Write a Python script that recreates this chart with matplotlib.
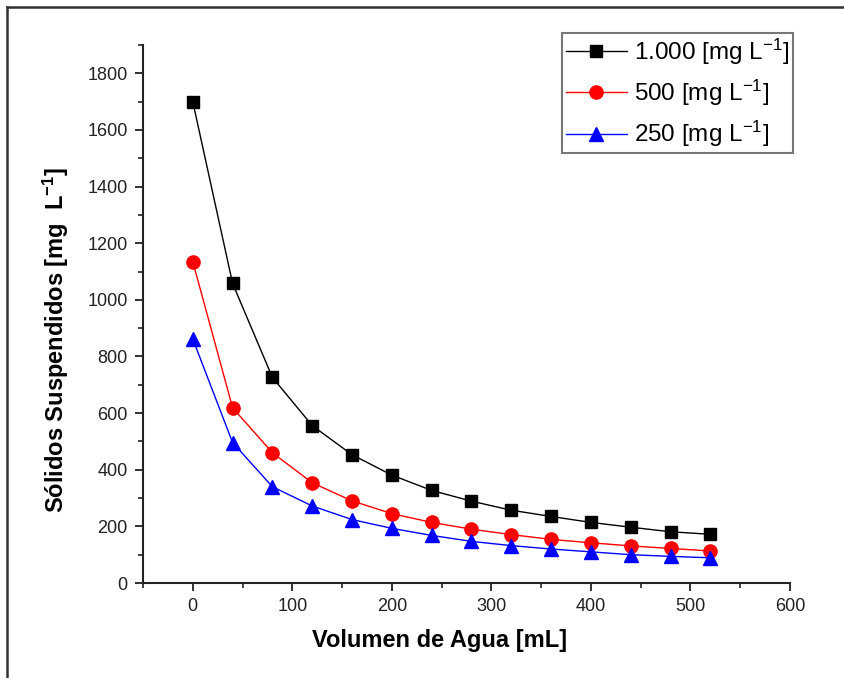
import matplotlib
matplotlib.use("Agg")
import matplotlib.pyplot as plt
from matplotlib.lines import Line2D
from matplotlib.ticker import MultipleLocator

plt.rcParams['font.family'] = ['Liberation Sans', 'DejaVu Sans']
plt.rcParams['mathtext.default'] = 'regular'

# Water volume added [mL]
volumen = [0, 40, 80, 120, 160, 200, 240, 280, 320, 360, 400, 440, 480, 520]

# Suspended solids [mg/L] for each initial concentration
ss_1000 = [1700, 1058, 726, 556, 453, 381, 327, 289, 257, 235, 214, 197, 181, 172]
ss_500 = [1135, 619, 460, 354, 290, 245, 214, 190, 171, 154, 142, 131, 122, 113]
ss_250 = [862, 496, 340, 272, 224, 193, 168, 147, 132, 120, 110, 100, 94, 89]

series_labels = ['1.000 [mg L$^{-1}$]', '500 [mg L$^{-1}$]', '250 [mg L$^{-1}$]']

fig = plt.figure(figsize=(8.45, 6.78), dpi=100)
ax = fig.add_axes([143 / 845, 1 - 583 / 678, (790 - 143) / 845, (583 - 45) / 678])

ax.plot(volumen, ss_1000, color='black', lw=1.0, marker='s', ms=8.5,
        mfc='black', mec='black', label=series_labels[0])
ax.plot(volumen, ss_500, color='red', lw=1.0, marker='o', ms=9.5,
        mfc='red', mec='red', label=series_labels[1])
ax.plot(volumen, ss_250, color='blue', lw=1.0, marker='^', ms=9.5,
        mfc='blue', mec='blue', label=series_labels[2])

ax.set_xlim(-50, 600)
ax.set_ylim(0, 1900)
ax.xaxis.set_major_locator(MultipleLocator(100))
ax.xaxis.set_minor_locator(MultipleLocator(50))
ax.yaxis.set_major_locator(MultipleLocator(200))
ax.yaxis.set_minor_locator(MultipleLocator(100))

for side in ('top', 'right'):
    ax.spines[side].set_visible(False)
for side in ('left', 'bottom'):
    ax.spines[side].set_linewidth(1.5)
    ax.spines[side].set_color('#222222')

ax.tick_params(which='major', direction='out', length=6, width=1.3,
               labelsize=13, colors='#222222', pad=5)
ax.tick_params(which='minor', direction='out', length=3.5, width=1.2,
               colors='#222222')

ax.set_xlabel('Volumen de Agua [mL]', fontsize=17, fontweight='bold')
ax.xaxis.set_label_coords(0.459, -0.085)
ax.set_ylabel('Sólidos Suspendidos [mg  L$^{-1}$]', fontsize=17,
              fontweight='bold')
ax.yaxis.set_label_coords(-0.112, 0.452)

leg = ax.legend(loc='upper right', bbox_to_anchor=(793 / 845, 1 - 33 / 678),
                bbox_transform=fig.transFigure, borderaxespad=0,
                fontsize=17.5, frameon=True, fancybox=False, handlelength=2.5,
                handletextpad=0.3, borderpad=0.15, labelspacing=0.45,
                markerscale=1.0)
leg.get_frame().set_edgecolor('#555555')
leg.get_frame().set_linewidth(1.5)

# Page frame along the top and left edges
fig.add_artist(Line2D([7 / 845, 1.0], [1 - 7 / 678, 1 - 7 / 678],
                      transform=fig.transFigure, color='#333333', lw=1.8))
fig.add_artist(Line2D([7 / 845, 7 / 845], [0.0, 1 - 7 / 678],
                      transform=fig.transFigure, color='#333333', lw=1.8))

fig.savefig('out.png', dpi=100)
